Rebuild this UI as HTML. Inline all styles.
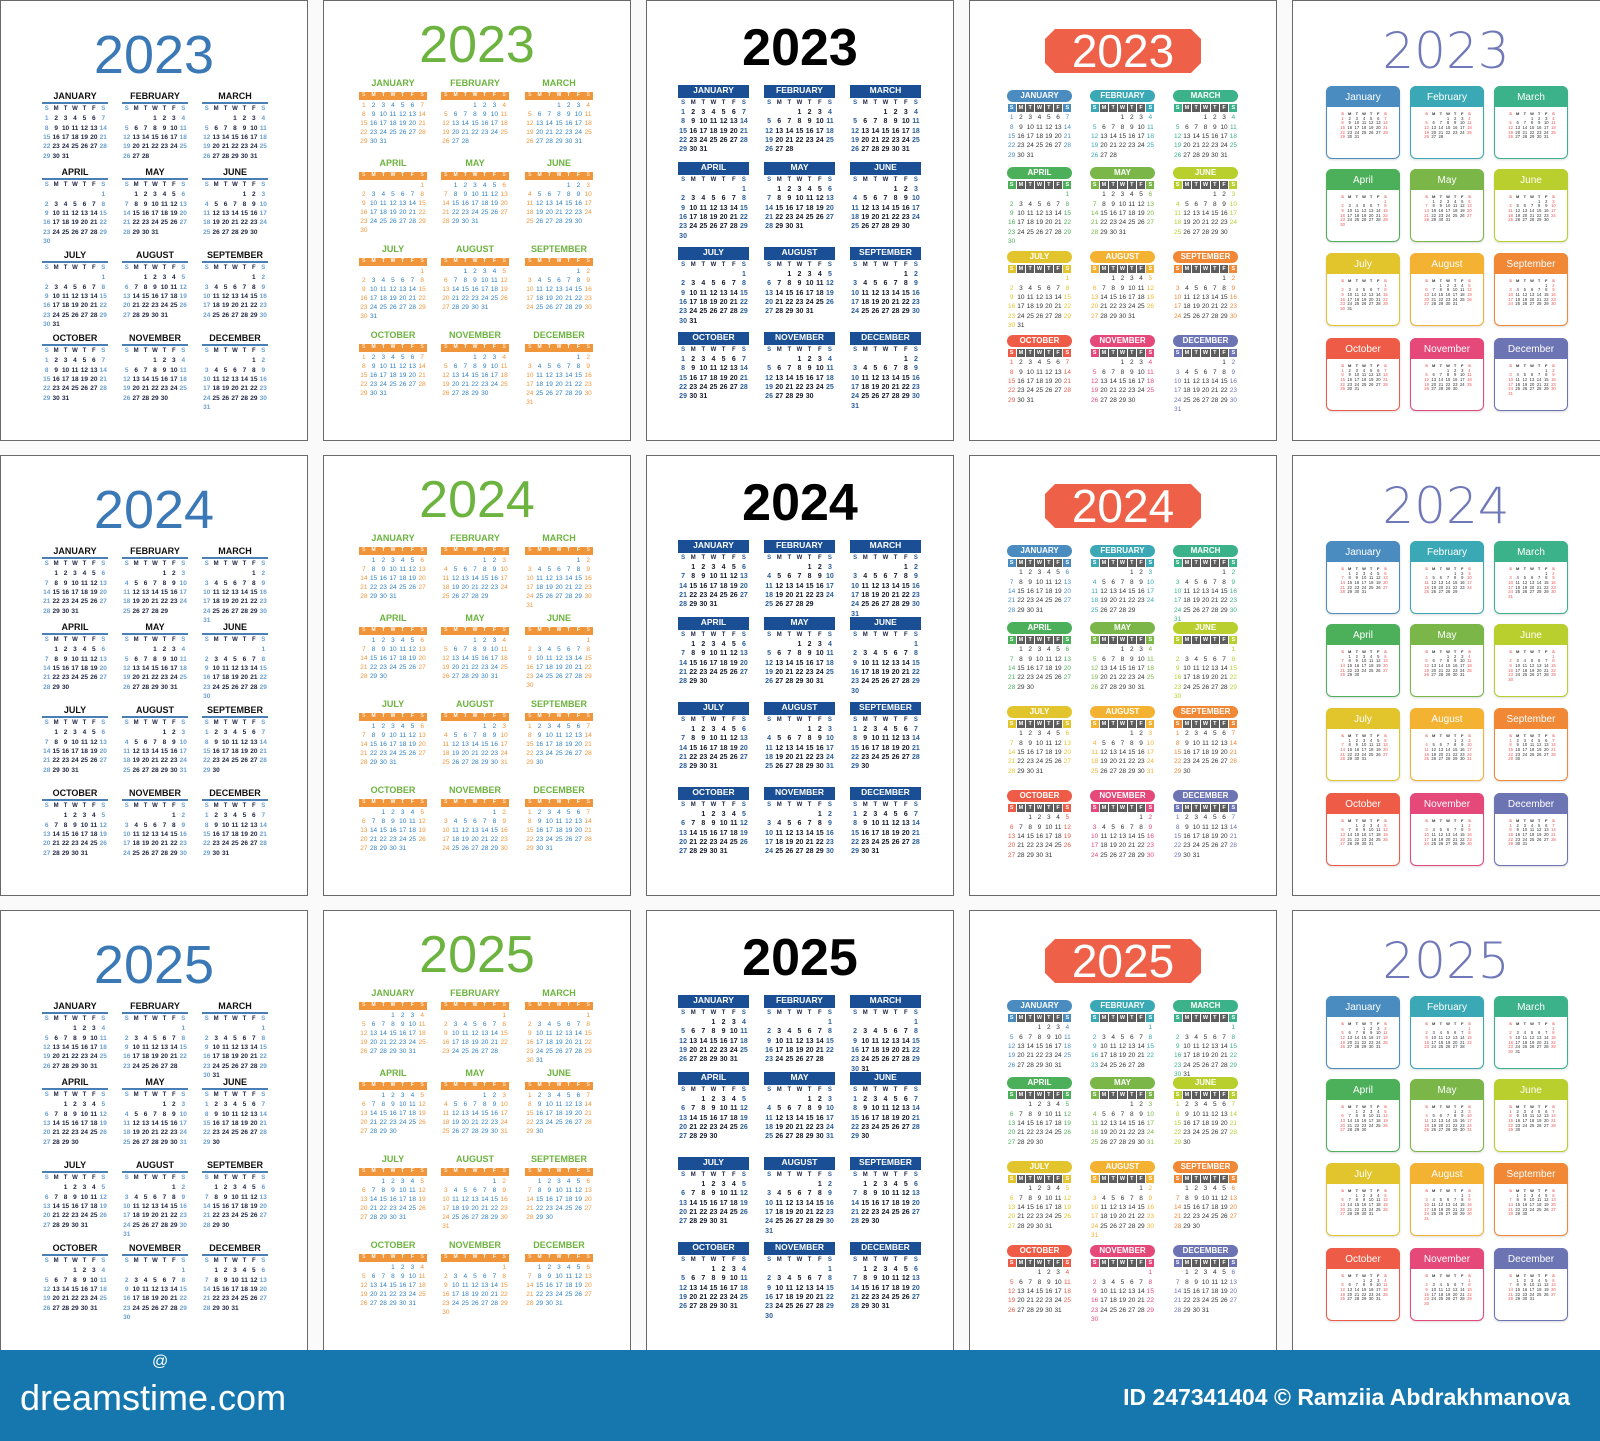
<!DOCTYPE html>
<html><head><meta charset="utf-8">
<style>
*{margin:0;padding:0;box-sizing:border-box}
body{width:1600px;height:1441px;background:#fafafa;position:relative;overflow:hidden;font-family:"Liberation Sans","DejaVu Sans",sans-serif}
.p{position:absolute;background:#fff;border:1px solid #6a6a6a;overflow:hidden}
.a{position:absolute;white-space:nowrap;text-align:center;line-height:1}
#ban{position:absolute;left:0;top:1350px;width:1600px;height:91px;background:#1577ad}
</style></head><body>
<div id="root"></div>
<div id="ban">
<div class="a" style="left:20px;top:30px;color:#fff;font-size:36px;text-align:left">dreamstime.com</div>
<div class="a" style="left:152px;top:4px;color:#fff;font-size:16px">@</div>
<div class="a" style="right:30px;left:auto;top:36px;color:#fff;font-size:23px;font-weight:bold">ID 247341404 © Ramziia Abdrakhmanova</div>
</div>
<script>
var root=document.getElementById('root');
var H='';
function el(x,y,w,h,css,txt){H+='<div class="a" style="left:'+x+'px;top:'+y+'px;width:'+w+'px;height:'+h+'px;'+(css||'')+'">'+(txt||'')+'</div>';}
function txt(cx,cy,w,size,css,t){el(cx-w/2,cy-size*0.55,w,size*1.1,'font-size:'+size+'px;line-height:'+(size*1.1)+'px;'+css,t);}
var MN=['JANUARY','FEBRUARY','MARCH','APRIL','MAY','JUNE','JULY','AUGUST','SEPTEMBER','OCTOBER','NOVEMBER','DECEMBER'];
var Mn=['January','February','March','April','May','June','July','August','September','October','November','December'];
var MC=['#4a8cc0','#3aa9b5','#3bb28a','#4cb05a','#7ab648','#b9cf2e','#e2c42c','#f4b233','#f08836','#ee5c47','#e5497a','#6c74b4'];
var WD=['S','M','T','W','T','F','S'];
var colL=[0,323,646,969,1292],rowT=[0,455,910],PW=308,PH=441;
function dates(X,y0,w,rh,size,cN,cW,yr,m,bold){
  var f=new Date(yr,m,1).getDay(),n=new Date(yr,m+1,0).getDate(),cw=w/7;
  for(var d=1;d<=n;d++){var i=f+d-1,c=i%7,r=Math.floor(i/7);
    txt(X+(c+0.5)*cw,y0+r*rh,cw+4,size,'color:'+((c==0||c==6)?cW:cN)+';'+(bold?'font-weight:bold;':''),d);}
}
function wk(X,cy,w,size,cN,cW){var cw=w/7;for(var c=0;c<7;c++)txt(X+(c+0.5)*cw,cy,cw,size,'font-weight:bold;color:'+((c==0||c==6)?cW:cN),WD[c]);}
for(var R=0;R<3;R++){var yr=2023+R;
for(var C=0;C<5;C++){
 var L=colL[C],T=rowT[R];
 H+='<div class="p" style="left:'+L+'px;top:'+T+'px;width:'+(C==4?309:PW)+'px;height:'+PH+'px"></div>';
 if(C==0){
  txt(L+154,T+56,200,54,'color:#3b79b6;font-weight:normal',yr);
  var xs=[42,122,202],ys=[97,173,256,339];
  for(var m=0;m<12;m++){var X=L+xs[m%3],Y=T+ys[Math.floor(m/3)],w=66;
   txt(X+w/2,Y,w+20,9,'font-weight:bold;color:#111',MN[m]);
   el(X,Y+5,w,2,'background:#4a7fb5');
   wk(X,Y+12,w,6,'#1b2340','#6a9fd0');
   dates(X,Y+22,w,9.3,6.5,'#1b2340','#6a9fd0',yr,m,true);}
 } else if(C==1){
  txt(L+154,T+46,200,52,'color:#6cb33f;font-weight:normal',yr);
  var xs=[36,118,202],ys=[84,164,250,336];
  for(var m=0;m<12;m++){var X=L+xs[m%3],Y=T+ys[Math.floor(m/3)],w=68;
   txt(X+w/2,Y,w+20,9,'font-weight:bold;color:#6cb33f',MN[m]);
   el(X,Y+8,w,8,'background:#f0953a');
   wk(X,Y+12,w,5,'#fff','#fde0c0');
   dates(X,Y+22,w,9,6.5,'#2f7fc0','#f0953a',yr,m,false);}
 } else if(C==2){
  txt(L+154,T+49,200,52,'color:#000;font-weight:bold',yr);
  var xs=[32,118,204],ys=[91,168,253,338];
  for(var m=0;m<12;m++){var X=L+xs[m%3],Y=T+ys[Math.floor(m/3)],w=71;
   el(X,Y-6.5,w,13,'background:#1a4f96');
   txt(X+w/2,Y,w,8.5,'font-weight:bold;color:#fff',MN[m]);
   wk(X,Y+12,w,6,'#1b2340','#2a5d96');
   dates(X,Y+22,w,9.3,7,'#15192b','#2a5d96',yr,m,true);}
 } else if(C==3){
  el(L+76,T+29,156,44,'background:#ee6148;clip-path:polygon(10px 0,146px 0,156px 10px,156px 34px,146px 44px,10px 44px,0 34px,0 10px);border-radius:4px');
  txt(L+154,T+51,156,46,'color:#fff',yr);
  var xs=[38,121,204],ys=[96,173,257,341];
  for(var m=0;m<12;m++){var X=L+xs[m%3],Y=T+ys[Math.floor(m/3)],w=65,mc=MC[m];
   el(X,Y-6,w,12,'background:'+mc+';border-radius:6px');
   txt(X+w/2,Y,w,8,'font-weight:bold;color:#fff',MN[m]);
   var cw=w/7;for(var c=0;c<7;c++){el(X+c*cw+0.5,Y+8,cw-1,8,'background:'+((c==0||c==6)?mc:'#5d5d5d'));txt(X+(c+0.5)*cw,Y+12,cw,5.5,'font-weight:bold;color:#fff',WD[c]);}
   dates(X,Y+22,w,9.3,6.5,'#333',mc,yr,m,false);}
 } else {
  txt(L+154,T+51,220,50,'color:#6f78b8;font-weight:200;font-family:DejaVu Sans,sans-serif',yr);
  var xs=[34,118,202],ys=[86,169,253,338];
  for(var m=0;m<12;m++){var X=L+xs[m%3],Y=T+ys[Math.floor(m/3)],w=74,mc=MC[m];
   el(X,Y,w,73,'border:1px solid '+mc+';border-radius:6px;background:#fff;box-shadow:0 1px 2px rgba(0,0,0,.15)');
   el(X,Y,w,21,'background:'+mc+';border-radius:6px 6px 0 0');
   txt(X+w/2,Y+11,w,10,'color:#fff',Mn[m]);
   wk(X+13,Y+28,50,4,'#333','#e55');
   dates(X+13,Y+33,50,4.7,4.2,'#333','#e55',yr,m,false);}
 }
}}
root.innerHTML=H;
</script>
</body></html>
